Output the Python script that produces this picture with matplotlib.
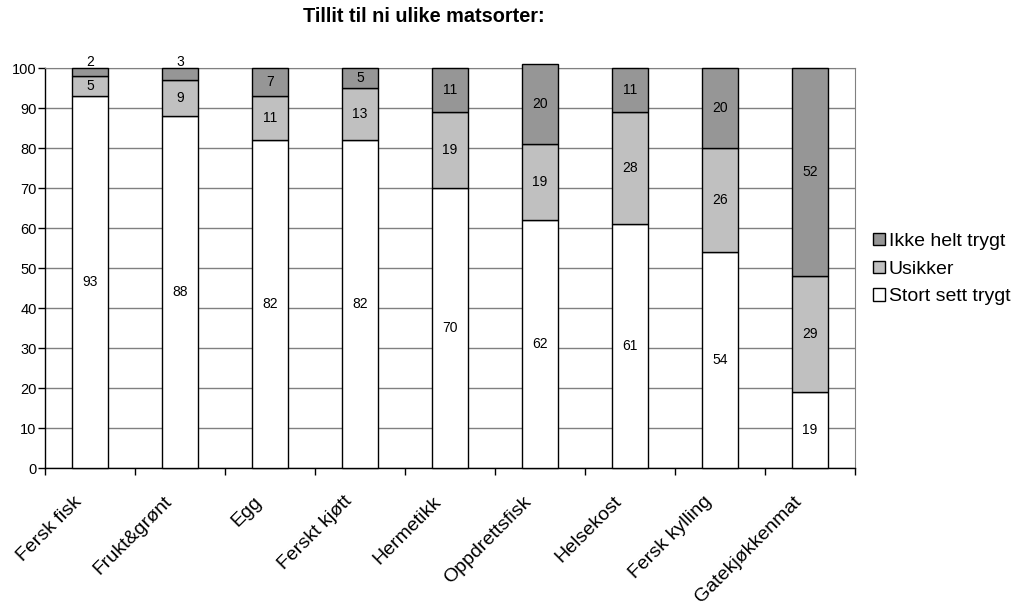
import matplotlib
matplotlib.use("Agg")
import matplotlib.pyplot as plt
import matplotlib.transforms as mtransforms
import numpy as np

plt.rcParams['font.family'] = ['Liberation Sans', 'DejaVu Sans']

categories = ["Fersk fisk", "Frukt&grønt", "Egg", "Ferskt kjøtt", "Hermetikk",
              "Oppdrettsfisk", "Helsekost", "Fersk kylling", "Gatekjøkkenmat"]
stort_sett_trygt = [93, 88, 82, 82, 70, 62, 61, 54, 19]
usikker = [5, 9, 11, 13, 19, 19, 28, 26, 29]
ikke_helt_trygt = [2, 3, 7, 5, 11, 20, 11, 20, 52]
series_names = ["Stort sett trygt", "Usikker", "Ikke helt trygt"]
colors = ["#ffffff", "#c0c0c0", "#969696"]
title = "Tillit til ni ulike matsorter:"

fig = plt.figure(figsize=(10.21, 6.06), dpi=100)
ax = fig.add_axes([45/1021, 1-468/606, 810/1021, 400/606])

x = np.arange(len(categories))
bottom = np.zeros(len(categories))
handles = []
for vals, name, col in zip([stort_sett_trygt, usikker, ikke_helt_trygt], series_names, colors):
    vals = np.array(vals, dtype=float)
    bars = ax.bar(x, vals, bottom=bottom, width=0.4, color=col, edgecolor="black",
                  linewidth=1.0, label=name, zorder=3, clip_on=False)
    handles.append(bars)
    for xi, b, v in zip(x, bottom, vals):
        if v < 4:
            y = b + v + 1.5
        else:
            y = b + v / 2
        ax.text(xi, y, f"{int(v)}", ha="center", va="center", fontsize=10, zorder=4)
    bottom += vals

ax.set_xlim(-0.5, len(categories) - 0.5)
ax.set_ylim(0, 100)
ax.set_yticks(np.arange(0, 101, 10))
ax.set_xticks(np.arange(-0.5, len(categories), 1.0))
ax.set_xticklabels([])

# category labels, rotated
base = mtransforms.blended_transform_factory(ax.transData, ax.transAxes)
offset = mtransforms.ScaledTranslation(-17/100, -25/100, fig.dpi_scale_trans)
for xi, cat in zip(x, categories):
    ax.text(xi, 0, cat, transform=base + offset, rotation=45, ha="right", va="top",
            rotation_mode="anchor", fontsize=14, clip_on=False)

ax.tick_params(axis="x", which="major", length=5, direction="out", width=1)
ax.tick_params(axis="y", length=5, direction="out", width=1, labelsize=10.5, pad=1)
ax.yaxis.grid(True, color="#808080", linewidth=1, zorder=0)
ax.set_axisbelow(True)
for s in ["top", "right"]:
    ax.spines[s].set_color("#808080")
for s in ["left", "bottom"]:
    ax.spines[s].set_color("black")
    ax.spines[s].set_linewidth(1)

fig.text(424/1021, 1-17/606, title, ha="center", va="center", fontsize=14.3, fontweight="bold")

leg = fig.legend(handles[::-1], series_names[::-1], loc="upper left",
                 bbox_to_anchor=(873/1021, 1-233/606), frameon=False, fontsize=14,
                 handlelength=0.6, handleheight=0.6, handletextpad=0.2, labelspacing=0.55,
                 borderaxespad=0, borderpad=0)

fig.savefig("out.png", dpi=100)
